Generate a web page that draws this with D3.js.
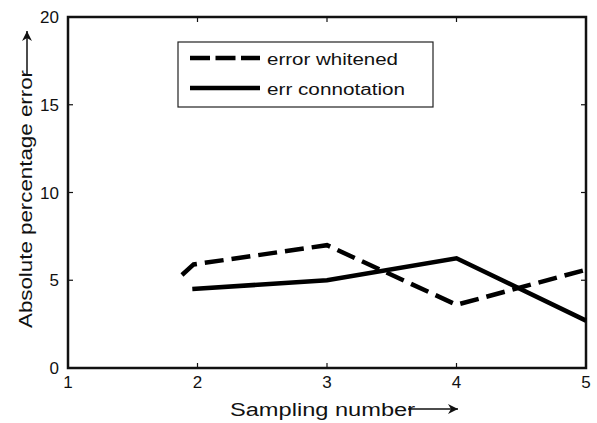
<!DOCTYPE html>
<html>
<head>
<meta charset="utf-8">
<script src="https://cdn.jsdelivr.net/npm/d3@7"></script>
<style>
  body { margin: 0; background: #fff; }
  text { font-family: "Liberation Sans", Arial, sans-serif; fill: #111; }
</style>
</head>
<body>
<svg id="chart" width="597" height="423"></svg>
<script>
// sampling numbers and errors
var whitenedX = [1.88, 1.97, 3, 4, 5];
var whitenedY = [5.3, 5.9, 7.0, 3.6, 5.6];
var connotX = [1.96, 3, 4, 5];
var connotY = [4.5, 5.0, 6.25, 2.7];
var xTicks = [1, 2, 3, 4, 5];
var yTicks = [0, 5, 10, 15, 20];
var legendLabels = ["error whitened", "err connotation"];

var svg = d3.select("#chart"),
    plotLeft = 68, plotRight = 586, plotTop = 17, plotBottom = 368;

var x = d3.scaleLinear().domain([1, 5]).range([plotLeft, plotRight]);
var y = d3.scaleLinear().domain([0, 20]).range([plotBottom, plotTop]);

svg.append("rect").attr("width", 597).attr("height", 423).attr("fill", "#fff");

// frame with inward ticks on all four sides
var frame = svg.append("g").attr("stroke", "#111").attr("fill", "none");
frame.append("rect")
    .attr("x", plotLeft).attr("y", plotTop)
    .attr("width", plotRight - plotLeft).attr("height", plotBottom - plotTop)
    .attr("stroke-width", 2.5);

xTicks.forEach(function(t) {
  frame.append("line").attr("x1", x(t)).attr("x2", x(t)).attr("y1", plotBottom).attr("y2", plotBottom - 5).attr("stroke-width", 1.2);
  frame.append("line").attr("x1", x(t)).attr("x2", x(t)).attr("y1", plotTop).attr("y2", plotTop + 5).attr("stroke-width", 1.2);
});
yTicks.forEach(function(t) {
  frame.append("line").attr("x1", plotLeft).attr("x2", plotLeft + 5).attr("y1", y(t)).attr("y2", y(t)).attr("stroke-width", 1.2);
  frame.append("line").attr("x1", plotRight).attr("x2", plotRight - 5).attr("y1", y(t)).attr("y2", y(t)).attr("stroke-width", 1.2);
});

svg.selectAll(".xlab").data(xTicks).enter().append("text")
    .attr("x", function(d) { return x(d); })
    .attr("y", 388)
    .attr("text-anchor", "middle")
    .style("font-size", "17px")
    .text(function(d) { return d; });

svg.selectAll(".ylab").data(yTicks).enter().append("text")
    .attr("x", 59)
    .attr("y", function(d) { return y(d) + 6; })
    .attr("text-anchor", "end")
    .style("font-size", "17px")
    .text(function(d) { return d; });

// axis titles with arrows
svg.append("text")
    .attr("x", 230).attr("y", 416)
    .attr("textLength", 185).attr("lengthAdjust", "spacingAndGlyphs")
    .style("font-size", "18px")
    .text("Sampling number");

svg.append("text")
    .attr("transform", "translate(32,328) rotate(-90)")
    .attr("textLength", 258).attr("lengthAdjust", "spacingAndGlyphs")
    .style("font-size", "18px")
    .text("Absolute percentage error");

svg.append("defs").append("marker")
    .attr("id", "arrow")
    .attr("viewBox", "0 0 10 10")
    .attr("refX", 10).attr("refY", 5)
    .attr("markerWidth", 14).attr("markerHeight", 10)
    .attr("markerUnits", "userSpaceOnUse")
    .attr("orient", "auto")
  .append("path")
    .attr("d", "M0,0 L10,5 L0,10 L3,5 Z")
    .attr("fill", "#111");

svg.append("line")
    .attr("x1", 408).attr("x2", 458).attr("y1", 409).attr("y2", 409)
    .attr("stroke", "#111").attr("stroke-width", 1.5)
    .attr("marker-end", "url(#arrow)");
svg.append("line")
    .attr("x1", 27).attr("x2", 27).attr("y1", 74).attr("y2", 31)
    .attr("stroke", "#111").attr("stroke-width", 1.5)
    .attr("marker-end", "url(#arrow)");

// data lines
var line = d3.line()
    .x(function(d) { return x(d[0]); })
    .y(function(d) { return y(d[1]); });

svg.append("path")
    .datum(d3.zip(whitenedX, whitenedY))
    .attr("d", line)
    .attr("fill", "none")
    .attr("stroke", "#000")
    .attr("stroke-width", 4.5)
    .attr("stroke-dasharray", "19,8");

svg.append("path")
    .datum(d3.zip(connotX, connotY))
    .attr("d", line)
    .attr("fill", "none")
    .attr("stroke", "#000")
    .attr("stroke-width", 4.5);

// legend
var legend = svg.append("g");
legend.append("rect")
    .attr("x", 178).attr("y", 42)
    .attr("width", 255).attr("height", 65)
    .attr("fill", "#fff").attr("stroke", "#222").attr("stroke-width", 1.2);

legendLabels.forEach(function(label, i) {
  var ly = 58 + i * 30;
  legend.append("line")
      .attr("x1", 190).attr("x2", 260).attr("y1", ly).attr("y2", ly)
      .attr("stroke", "#000").attr("stroke-width", 4.5)
      .attr("stroke-dasharray", i === 0 ? "20,5.5" : null);
  legend.append("text")
      .attr("x", 267).attr("y", ly + 7)
      .attr("textLength", i === 0 ? 131 : 138).attr("lengthAdjust", "spacingAndGlyphs")
      .style("font-size", "16px")
      .text(label);
});
</script>
</body>
</html>
